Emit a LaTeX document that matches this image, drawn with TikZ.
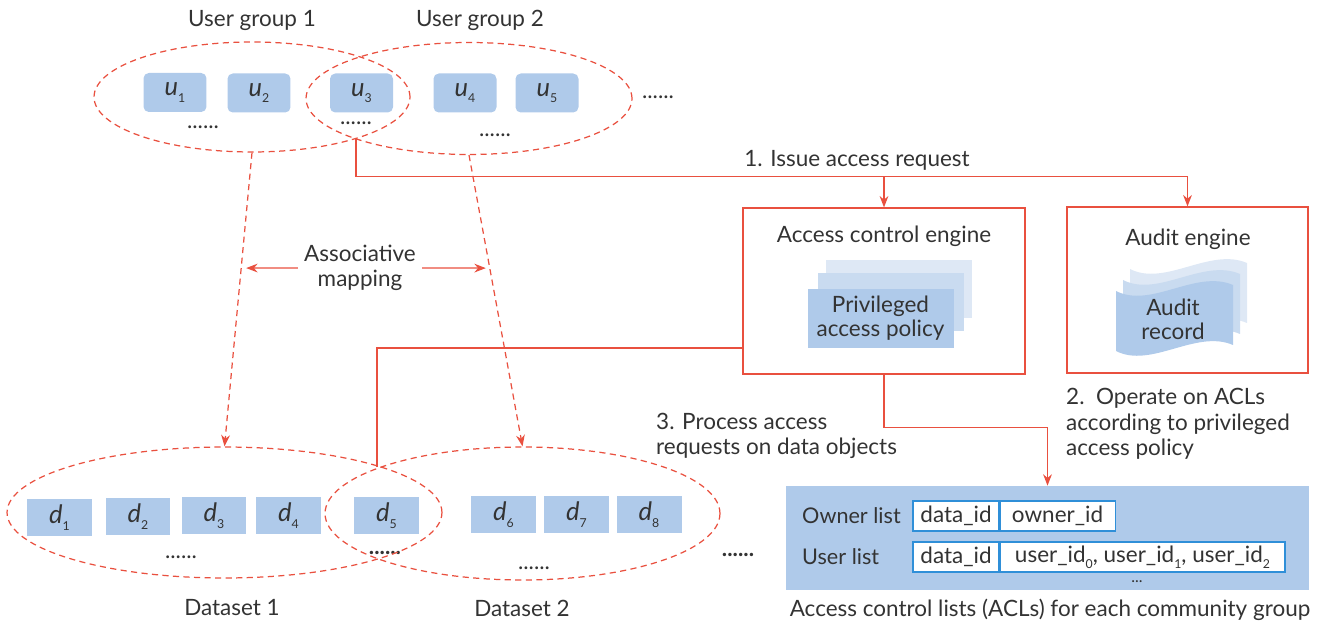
\documentclass[tikz,border=0pt]{standalone}
\usepackage{fontspec}
\setmainfont{Lato}
\usepackage{tikz}
\usetikzlibrary{shapes.geometric, arrows, arrows.meta, positioning, calc}
\usepackage{xcolor}

\definecolor{linkred}{HTML}{E9503F}
\definecolor{boxblue}{HTML}{AFCAEA}
\definecolor{boxblue2}{HTML}{C9DBF0}
\definecolor{boxblue3}{HTML}{DEE8F5}
\definecolor{cellblue}{HTML}{2F8FD8}
\definecolor{ink}{HTML}{333333}

\newcommand{\sbs}[1]{\raisebox{-0.5ex}{\scriptsize #1}}

\begin{document}
\begin{tikzpicture}[x=0.02cm, y=-0.02cm, font=\fontsize{12.8}{14.5}\selectfont, text=ink,
        ubox/.style={rectangle, fill=boxblue, rounded corners=3pt, minimum width=1.26cm, minimum height=0.78cm, font=\fontsize{14.5}{15}\selectfont},
        dbox/.style={rectangle, fill=boxblue, minimum width=1.3cm, minimum height=0.7cm, font=\fontsize{14.5}{15}\selectfont},
        group/.style={ellipse, draw=linkred, line width=0.7pt, dash pattern=on 3.5pt off 2.5pt, inner sep=0pt},
        engine/.style={rectangle, draw=linkred, line width=0.7pt, minimum height=3.32cm},
        policy/.style={rectangle, minimum width=2.92cm, minimum height=1.17cm},
        cell/.style={rectangle, draw=cellblue, fill=white, line width=0.6pt, minimum height=0.6cm, inner sep=2pt},
        link/.style={draw=linkred, line width=0.7pt},
        line/.style={link, ->, >={Stealth[length=6.5pt, width=5pt]}},
        dline/.style={line, dash pattern=on 3.5pt off 2.5pt},
        scroll/.pic={\fill[pic actions] (0,0) .. controls (35,18) and (80,-22) .. (117,-6) -- (117,54) .. controls (80,38) and (35,78) .. (0,60) -- cycle;}
    ]
        \useasboundingbox (0,0) rectangle (1327,624);

        % user groups
        \node (ug1lab) at (252,20) {User group 1};
        \node (ug2lab) at (480,20) {User group 2};
        \node [ubox] (u1) at (175,92.5) {\textit{u}\sbs{1}};
        \node [ubox] (u2) at (259,93) {\textit{u}\sbs{2}};
        \node [ubox] (u3) at (361.5,93) {\textit{u}\sbs{3}};
        \node [ubox] (u4) at (465,93) {\textit{u}\sbs{4}};
        \node [ubox] (u5) at (547,93) {\textit{u}\sbs{5}};
        \node (udots1) at (203,127) {......};
        \node (udots2) at (356,123) {......};
        \node (udots3) at (495,135) {......};
        \node (udots4) at (658,97) {......};
        \node [group, minimum width=6.32cm, minimum height=2.2cm] (ug1) at (252,97) {};
        \node [group, minimum width=6.52cm, minimum height=2.24cm] (ug2) at (469,98.5) {};

        % datasets
        \node [dbox] (d1) at (59.5,517.5) {\textit{d}\sbs{1}};
        \node [dbox] (d2) at (138,516.5) {\textit{d}\sbs{2}};
        \node [dbox] (d3) at (214,515.5) {\textit{d}\sbs{3}};
        \node [dbox] (d4) at (288.5,515.5) {\textit{d}\sbs{4}};
        \node [dbox] (d5) at (386.5,515.5) {\textit{d}\sbs{5}};
        \node [dbox] (d6) at (503.5,514.5) {\textit{d}\sbs{6}};
        \node [dbox] (d7) at (576.5,514.5) {\textit{d}\sbs{7}};
        \node [dbox] (d8) at (649,514.5) {\textit{d}\sbs{8}};
        \node (ddots1) at (181,557) {......};
        \node (ddots2) at (385,553) {\textbf{......}};
        \node (ddots3) at (534,568) {......};
        \node (ddots4) at (738,555) {\textbf{......}};
        \node [group, minimum width=8.7cm, minimum height=2.62cm] (ds1) at (224.5,512.5) {};
        \node [group, minimum width=7.9cm, minimum height=2.66cm] (ds2) at (522.5,513.5) {};
        \node (ds1lab) at (232,608) {Dataset 1};
        \node (ds2lab) at (522,608) {Dataset 2};

        % associative mapping
        \path [dline] (ug1.south) -- (ds1.north);
        \path [dline] (ug2.south) -- (ds2.north);
        \node [align=center, font=\fontsize{12.8}{14}\selectfont] (amap) at (360,268) {Associative\\mapping};
        \coordinate (mapl) at ($(ug1.south)!0.393!(ds1.north)+(5,0)$);
        \coordinate (mapr) at ($(ug2.south)!0.388!(ds2.north)+(-4,0)$);
        \path [line] (amap.west) -- (mapl);
        \path [line] (amap.east) -- (mapr);

        % engines
        \node [engine, minimum width=5.64cm] (ace) at (884,291) {};
        \node (acelab) at (884,236) {Access control engine};
        \node [policy, fill=boxblue3] (pol3) at (899,289) {};
        \node [policy, fill=boxblue2] (pol2) at (891,302) {};
        \node [policy, fill=boxblue, align=center, font=\fontsize{12.8}{13.5}\selectfont] (pol1) at (880.5,318.5) {Privileged\\access policy};

        \node [engine, minimum width=4.82cm] (aud) at (1187.5,290) {};
        \node (audlab) at (1188,239) {Audit engine};
        \pic [fill=boxblue3] at (1130,269) {scroll};
        \pic [fill=boxblue2] at (1123,280) {scroll};
        \pic [fill=boxblue] at (1116,291) {scroll};
        \node [align=center, font=\fontsize{12.8}{13.5}\selectfont] (rec) at (1173,319) {Audit\\record};

        % access control lists
        \node [rectangle, fill=boxblue, minimum width=10.46cm, minimum height=2.08cm] (acl) at (1047.5,538) {};
        \node [anchor=west, font=\fontsize{12.3}{14}\selectfont] (ownlab) at (796,516) {Owner list};
        \node [anchor=west, font=\fontsize{12.3}{14}\selectfont] (usrlab) at (796,557) {User list};
        \node [cell, minimum width=1.72cm] (odata) at (956,516) {data\_id};
        \node [cell, minimum width=2.3cm, right=0pt of odata] (oid) {owner\_id};
        \node [cell, minimum width=1.72cm] (udata) at (956,557) {data\_id};
        \node [cell, minimum width=5.7cm, right=0pt of udata] (uid) {user\_id\sbs{0}, user\_id\sbs{1}, user\_id\sbs{2}};
        \node [inner sep=0pt, font=\small] (acldots) at (1137,582) {...};
        \node (acllab) at (1050,610) {Access control lists (ACLs) for each community group};

        % requests
        \coordinate (ux) at (356,138);
        \coordinate (dx) at (377,467);
        \path [line] (ux) |- ($(aud.north)+(0,-30)$) -- (aud.north);
        \path [line] (ace.north |- 0,177) -- (ace.north);
        \node (req) at (857,160) {1. Issue access request};
        \path [link] ($(ace.west)+(0,57)$) -| (dx);
        \path [line] (ace.south) -- ++(0,53) -| (acl.north);
        \node [anchor=west, align=left] (step3) at (650,436) {3. Process access\\requests on data objects};
        \node [anchor=west, align=left] (step2) at (1060,424) {2.\ \ Operate on ACLs\\according to privileged\\access policy};
    \end{tikzpicture}
\end{document}
